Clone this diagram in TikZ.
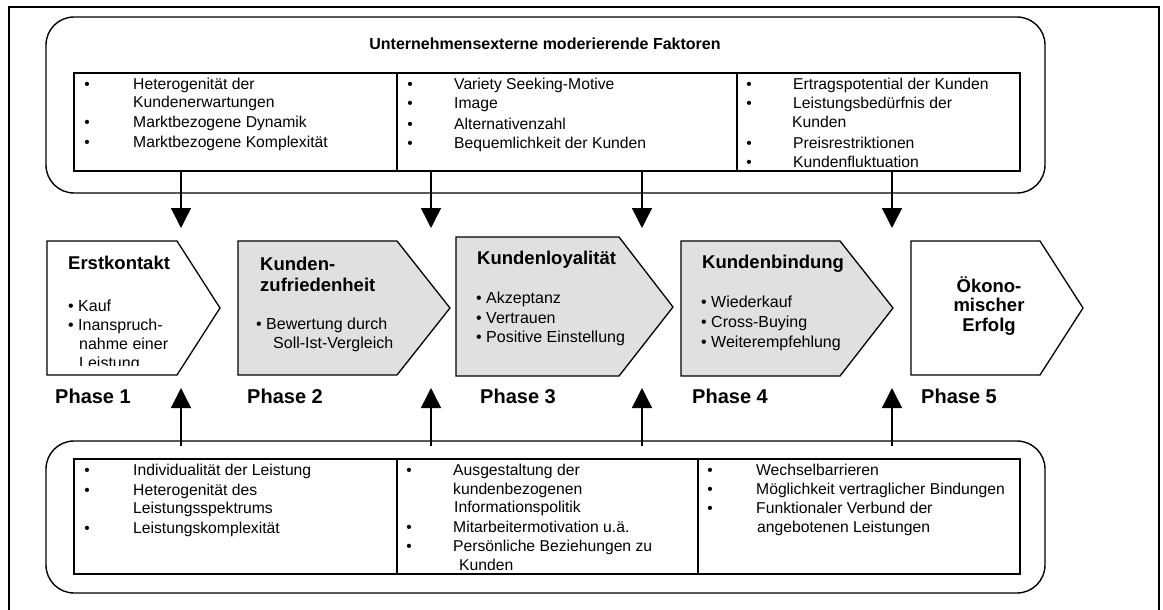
\documentclass[tikz,border=0pt]{standalone}
\usepackage{fontspec}
\setmainfont{Liberation Sans}
\usetikzlibrary{arrows.meta}
\begin{document}
\begin{tikzpicture}[x=1pt,y=-1pt,
  outerframe/.style={line width=1.6pt},
  roundgroup/.style={line width=1.4pt, rounded corners=28pt},
  tablelines/.style={line width=1.6pt},
  phasebox/.style={line width=1.3pt, line join=miter},
  shaded/.style={fill=black!12},
  txt/.style={anchor=base west, inner sep=0pt, font=\fontsize{15.7}{18}\selectfont},
  bul/.style={anchor=base, inner sep=0pt, font=\fontsize{15.5}{18}\selectfont},
  ptxt/.style={anchor=base west, inner sep=0pt, font=\fontsize{16}{19}\selectfont},
  head/.style={anchor=base west, inner sep=0pt, font=\fontsize{18.5}{22}\selectfont\bfseries},
  chead/.style={anchor=base, inner sep=0pt, font=\fontsize{18.5}{22}\selectfont\bfseries},
  headtitle/.style={anchor=base, inner sep=0pt, font=\fontsize{16}{19}\selectfont\bfseries},
  phaselabel/.style={anchor=base west, inner sep=0pt, font=\fontsize{20}{24}\selectfont\bfseries},
  flow/.style={line width=1.5pt, -{Triangle[width=20pt,length=20pt]}},
]
\clip (0,0) rectangle (1163,610);

% outer frame
\draw[outerframe] (9,7) rectangle (1159,640);

% ---------- external moderating factors (top) ----------
\draw[roundgroup] (46,17) rectangle (1045,193);
\node[headtitle] (ttl) at (545,50) {Unternehmensexterne moderierende Faktoren};
\draw[tablelines] (74,73) rectangle (1020,171);
\draw[tablelines] (397,73) -- (397,171) (737,73) -- (737,171);

% column 1
\node[bul] (tb1) at (87,90) {•};
\node[txt] (ta1) at (133,90) {Heterogenität der};
\node[txt] (ta2) at (133,107) {Kundenerwartungen};
\node[bul] (tb2) at (87,128) {•};
\node[txt] (ta3) at (133,128) {Marktbezogene Dynamik};
\node[bul] (tb3) at (87,147) {•};
\node[txt] (ta4) at (133,147) {Marktbezogene Komplexität};
% column 2
\node[bul] (tb4) at (410,90) {•};
\node[txt] (tc1) at (454,90) {Variety Seeking-Motive};
\node[bul] (tb5) at (410,109) {•};
\node[txt] (tc2) at (454,109) {Image};
\node[bul] (tb6) at (410,129) {•};
\node[txt] (tc3) at (454,129) {Alternativenzahl};
\node[bul] (tb7) at (410,148) {•};
\node[txt] (tc4) at (454,148) {Bequemlichkeit der Kunden};
% column 3
\node[bul] (tb8) at (749,89) {•};
\node[txt] (td1) at (793,89) {Ertragspotential der Kunden};
\node[bul] (tb9) at (749,108) {•};
\node[txt] (td2) at (793,108) {Leistungsbedürfnis der};
\node[txt] (td3) at (792,128) {Kunden};
\node[bul] (tb10) at (749,148) {•};
\node[txt] (td4) at (793,148) {Preisrestriktionen};
\node[bul] (tb11) at (749,167) {•};
\node[txt] (td5) at (793,167) {Kundenfluktuation};

% ---------- phases ----------
\draw[phasebox] (47,241) -- (177,241) -- (220,308) -- (177,375) -- (47,375) -- cycle;
\draw[phasebox,shaded] (238,241) -- (397,241) -- (450,308) -- (397,375) -- (238,375) -- cycle;
\draw[phasebox,shaded] (456,237) -- (619,237) -- (673,307) -- (619,376) -- (456,376) -- cycle;
\draw[phasebox,shaded] (681,241) -- (840,241) -- (893,308) -- (840,376) -- (681,376) -- cycle;
\draw[phasebox] (911,241) -- (1040,241) -- (1083,308) -- (1040,375) -- (911,375) -- cycle;

% phase 1
\node[head] (h1) at (68,269) {Erstkontakt};
\begin{scope}
  \clip (47,241) rectangle (220,365);
  \node[ptxt] (p11) at (68,311) {• Kauf};
  \node[ptxt] (p12) at (68,330) {• Inanspruch-};
  \node[ptxt] (p13) at (79,349) {nahme einer};
  \node[ptxt] (p14) at (79,368) {Leistung};
\end{scope}
% phase 2
\node[head] (h2a) at (260,270) {Kunden-};
\node[head] (h2b) at (260,291) {zufriedenheit};
\node[ptxt] (p21) at (256,329) {• Bewertung durch};
\node[ptxt] (p22) at (273,348) {Soll-Ist-Vergleich};
% phase 3
\node[head] (h3) at (477,264) {Kundenloyalität};
\node[ptxt] (p31) at (476,303) {• Akzeptanz};
\node[ptxt] (p32) at (476,323) {• Vertrauen};
\node[ptxt] (p33) at (476,342) {• Positive Einstellung};
% phase 4
\node[head] (h4) at (702,268) {Kundenbindung};
\node[ptxt] (p41) at (701,307) {• Wiederkauf};
\node[ptxt] (p42) at (701,327) {• Cross-Buying};
\node[ptxt] (p43) at (701,347) {• Weiterempfehlung};
% phase 5
\node[chead] (h5a) at (989,292) {Ökono-};
\node[chead] (h5b) at (989,311) {mischer};
\node[chead] (h5c) at (989,331) {Erfolg};

\node[phaselabel] (ph1) at (55,403) {Phase 1};
\node[phaselabel] (ph2) at (247,403) {Phase 2};
\node[phaselabel] (ph3) at (480,403) {Phase 3};
\node[phaselabel] (ph4) at (692,403) {Phase 4};
\node[phaselabel] (ph5) at (921,403) {Phase 5};

% ---------- internal moderating factors (bottom) ----------
\draw[roundgroup] (46,441) rectangle (1045,593);
\draw[tablelines] (74,459) rectangle (1020,574);
\draw[tablelines] (397,459) -- (397,574) (698,459) -- (698,574);

% column 1
\node[bul] (bb1) at (87,475) {•};
\node[txt] (ba1) at (133,475) {Individualität der Leistung};
\node[bul] (bb2) at (87,495) {•};
\node[txt] (ba2) at (133,495) {Heterogenität des};
\node[txt] (ba3) at (133,513) {Leistungsspektrums};
\node[bul] (bb3) at (87,533) {•};
\node[txt] (ba4) at (133,533) {Leistungskomplexität};
% column 2
\node[bul] (bb4) at (409,475) {•};
\node[txt] (bc1) at (453,475) {Ausgestaltung der};
\node[txt] (bc2) at (453,494) {kundenbezogenen};
\node[txt] (bc3) at (454,512) {Informationspolitik};
\node[bul] (bb5) at (409,532) {•};
\node[txt] (bc4) at (453,532) {Mitarbeitermotivation u.ä.};
\node[bul] (bb6) at (409,551) {•};
\node[txt] (bc5) at (453,551) {Persönliche Beziehungen zu};
\node[txt] (bc6) at (459,570) {Kunden};
% column 3
\node[bul] (bb7) at (710,475) {•};
\node[txt] (bd1) at (756,475) {Wechselbarrieren};
\node[bul] (bb8) at (710,494) {•};
\node[txt] (bd2) at (756,494) {Möglichkeit vertraglicher Bindungen};
\node[bul] (bb9) at (710,513) {•};
\node[txt] (bd3) at (756,513) {Funktionaler Verbund der};
\node[txt] (bd4) at (757,532) {angebotenen Leistungen};

% ---------- influence arrows ----------
\foreach \i/\x in {1/181,2/431,3/642,4/892}{
  \coordinate (ds\i) at (\x,171);
  \coordinate (de\i) at (\x,228);
  \coordinate (us\i) at (\x,446);
  \coordinate (ue\i) at (\x,388);
}
\foreach \i in {1,2,3,4}{
  \draw[flow] (ds\i) -- (de\i);
  \draw[flow] (us\i) -- (ue\i);
}
\end{tikzpicture}
\end{document}
